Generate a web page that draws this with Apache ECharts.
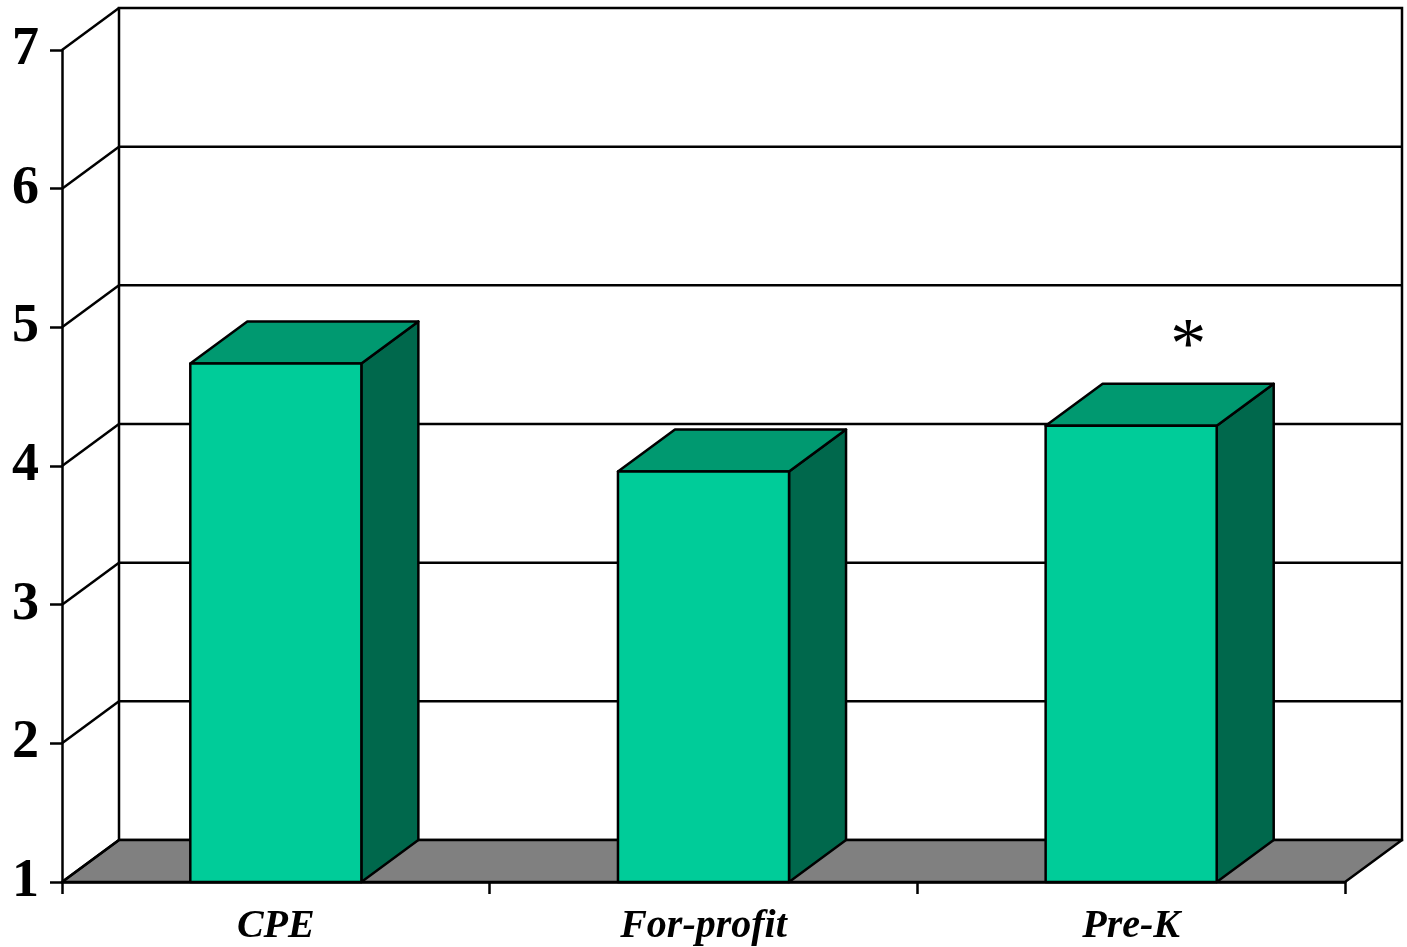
<!DOCTYPE html>
<html>
<head>
<meta charset="utf-8">
<title>Scores by program type</title>
<script src="https://cdn.jsdelivr.net/npm/echarts@6/dist/echarts.min.js"></script>
<style>
  html, body { margin: 0; padding: 0; background: #ffffff; }
  #chart { width: 1407px; height: 947px; }
</style>
</head>
<body>
<div id="chart"></div>
<script>
// Program categories and their mean scores
const categories = ['CPE', 'For-profit', 'Pre-K'];
const scores = [4.74, 3.96, 4.29];
// Significance markers placed above each bar
const markers = ['', '', '*'];
// Value axis range
const yTicks = [1, 2, 3, 4, 5, 6, 7];

// Oblique depth of the 3D box (pixels)
const DEPTH_X = 57;
const DEPTH_Y = -42;
const BAR_RATIO = 0.4;
const LW = 2.5;

const FRONT = '#00CC99';
const TOP = '#009970';
const SIDE = '#00684C';
const FLOOR = '#808080';
const EDGE = '#000000';

const chart = echarts.init(document.getElementById('chart'), null, { renderer: 'canvas' });

// Back walls, floor and the receding gridlines
function renderFrame(params, api) {
  const cs = params.coordSys;
  const x0 = cs.x, x1 = cs.x + cs.width;
  const yMin = yTicks[0], yMax = yTicks[yTicks.length - 1];
  const yBase = api.coord([0, yMin])[1];
  const yTop = api.coord([0, yMax])[1];
  const children = [];
  const line = { stroke: EDGE, lineWidth: LW };

  // wall background
  children.push({
    type: 'rect',
    shape: { x: x0 + DEPTH_X, y: yTop + DEPTH_Y, width: x1 - x0, height: yBase - yTop },
    style: { fill: '#ffffff', stroke: EDGE, lineWidth: LW }
  });
  // floor
  children.push({
    type: 'polygon',
    shape: { points: [[x0, yBase], [x1, yBase], [x1 + DEPTH_X, yBase + DEPTH_Y], [x0 + DEPTH_X, yBase + DEPTH_Y]] },
    style: { fill: FLOOR, stroke: EDGE, lineWidth: LW, lineJoin: 'round' }
  });
  yTicks.forEach(function (v) {
    const y = api.coord([0, v])[1];
    if (v > yMin && v < yMax) {
      children.push({
        type: 'line',
        shape: { x1: x0 + DEPTH_X, y1: y + DEPTH_Y, x2: x1 + DEPTH_X, y2: y + DEPTH_Y },
        style: line
      });
    }
    children.push({
      type: 'line',
      shape: { x1: x0, y1: y, x2: x0 + DEPTH_X, y2: y + DEPTH_Y },
      style: line
    });
  });
  return { type: 'group', children: children };
}

// Oblique 3D bar drawn from its value
function renderBar(params, api) {
  const idx = api.value(0);
  const val = api.value(1);
  const base = api.coord([idx, yTicks[0]]);
  const top = api.coord([idx, val]);
  const band = api.size([1, 0])[0];
  const w = band * BAR_RATIO;
  const xl = base[0] - w / 2, xr = base[0] + w / 2;
  const yb = base[1], yt = top[1];
  const stroke = { stroke: EDGE, lineWidth: LW, lineJoin: 'round' };
  const children = [
    {
      type: 'polygon',
      shape: { points: [[xr, yt], [xr + DEPTH_X, yt + DEPTH_Y], [xr + DEPTH_X, yb + DEPTH_Y], [xr, yb]] },
      style: Object.assign({ fill: SIDE }, stroke)
    },
    {
      type: 'polygon',
      shape: { points: [[xl, yt], [xr, yt], [xr + DEPTH_X, yt + DEPTH_Y], [xl + DEPTH_X, yt + DEPTH_Y]] },
      style: Object.assign({ fill: TOP }, stroke)
    },
    {
      type: 'rect',
      shape: { x: xl, y: yt, width: w, height: yb - yt },
      style: Object.assign({ fill: FRONT }, stroke)
    }
  ];
  const mark = markers[idx];
  if (mark) {
    children.push({
      type: 'text',
      style: {
        text: mark,
        x: base[0] + DEPTH_X,
        y: yt + DEPTH_Y - 36,
        align: 'center',
        verticalAlign: 'middle',
        font: 'normal 72px "Liberation Serif", "DejaVu Serif", serif',
        fill: '#000000'
      }
    });
  }
  return { type: 'group', children: children };
}

const option = {
  backgroundColor: '#ffffff',
  animation: false,
  grid: { left: 62, right: 62, top: 50, bottom: 65, containLabel: false },
  xAxis: {
    type: 'category',
    data: categories,
    boundaryGap: true,
    z: 10,
    axisLine: { show: true, lineStyle: { color: EDGE, width: LW } },
    axisTick: { show: true, length: 12, alignWithLabel: false, lineStyle: { color: EDGE, width: LW } },
    axisLabel: {
      margin: 25,
      color: '#000000',
      fontFamily: '"Liberation Serif", "DejaVu Serif", serif',
      fontStyle: 'italic',
      fontWeight: 'bold',
      fontSize: 40
    },
    splitLine: { show: false }
  },
  yAxis: {
    type: 'value',
    min: yTicks[0],
    max: yTicks[yTicks.length - 1],
    interval: 1,
    z: 10,
    axisLine: { show: true, lineStyle: { color: EDGE, width: LW } },
    axisTick: { show: true, length: 12, lineStyle: { color: EDGE, width: LW } },
    axisLabel: {
      margin: 23,
      color: '#000000',
      fontFamily: '"Liberation Serif", "DejaVu Serif", serif',
      fontWeight: 'bold',
      fontSize: 54
    },
    splitLine: { show: false }
  },
  series: [
    {
      type: 'custom',
      name: 'frame',
      silent: true,
      z: 1,
      renderItem: renderFrame,
      data: [[0, yTicks[0]]]
    },
    {
      type: 'custom',
      name: 'scores',
      z: 2,
      renderItem: renderBar,
      encode: { x: 0, y: 1 },
      data: scores.map(function (v, i) { return [i, v]; })
    }
  ]
};

chart.setOption(option);
</script>
</body>
</html>
